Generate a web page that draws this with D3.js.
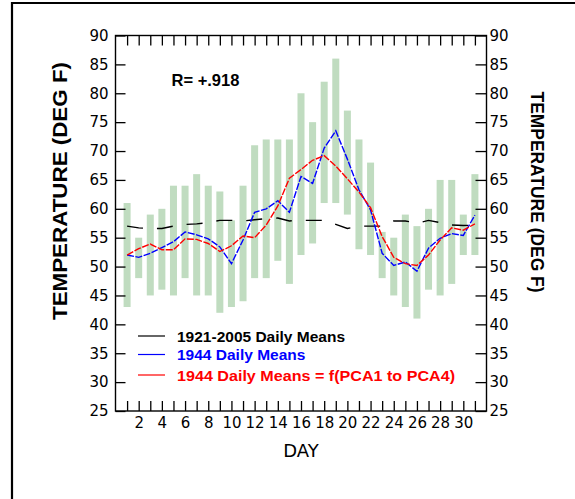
<!DOCTYPE html>
<html>
<head>
<meta charset="utf-8">
<script src="https://cdn.jsdelivr.net/npm/d3@7"></script>
<style>
  html, body { margin: 0; padding: 0; background: #fff; }
  svg { display: block; }
</style>
</head>
<body>
<svg id="chart" width="575" height="499"></svg>
<script>
// ---- data ----
const days = [1,2,3,4,5,6,7,8,9,10,11,12,13,14,15,16,17,18,19,20,21,22,23,24,25,26,27,28,29,30,31];
const rangeHigh = [61,55,59,60,64,64,66,64,63,58,64,71,72,72,72,80,75,82,86,77,72,68,56,55,59,57,60,65,65,59,66];
const rangeLow  = [43,48,45,46,45,48,45,45,42,43,44,48,48,51,47,52,54,61,61,59,53,52,48,45,43,41,46,45,47,52,52];
const climMeans = [57.0,56.7,56.6,56.6,57.0,57.3,57.4,57.6,58.0,58.0,57.9,58.1,58.3,58.4,57.9,58.0,58.0,58.0,57.3,56.6,57.0,57.0,57.0,57.9,57.9,57.5,58.0,57.6,57.2,57.1,57.2];
const means1944 = [52.0,51.6,52.3,53.3,54.3,56.0,55.5,54.8,53.4,50.5,54.6,59.4,60.0,61.4,59.4,65.6,64.4,70.5,73.5,68.6,63.3,59.8,52.3,50.2,50.8,49.2,53.2,54.9,55.7,55.4,58.9];
const pcaMeans  = [52.0,53.1,53.9,52.9,52.9,54.8,54.7,54.0,52.6,53.6,55.3,55.0,57.2,60.5,65.3,66.8,68.4,69.2,67.4,65.2,62.9,60.2,55.2,51.6,50.5,50.2,52.0,54.6,56.7,56.3,57.4];
const yTicks = [25,30,35,40,45,50,55,60,65,70,75,80,85,90];
const xTickLabels = [2,4,6,8,10,12,14,16,18,20,22,24,26,28,30];
const legendItems = ["1921-2005 Daily Means", "1944 Daily Means", "1944 Daily Means = f(PCA1 to PCA4)"];
const legendColors = ["#000000", "#0000ff", "#ff0000"];
const yTitle = "TEMPERATURE (DEG F)";
const xTitle = "DAY";
const rLabel = "R= +.918";

// ---- layout ----
const svg = d3.select("#chart");
const x = d3.scaleLinear().domain([0, 32]).range([115.5, 486.5]);
const y = d3.scaleLinear().domain([25, 90]).range([411, 35.5]);
const tickFont = "'DejaVu Sans', sans-serif";
const boldFont = "'Liberation Sans', Arial, sans-serif";

// figure border
svg.append("path").attr("d", "M12,499 V3 H575")
  .attr("fill", "none").attr("stroke", "#000").attr("stroke-width", 2.2);

// bars
svg.append("g").selectAll("rect").data(days).join("rect")
  .attr("x", (d) => x(d) - 3.5)
  .attr("width", 7)
  .attr("y", (d, i) => y(rangeHigh[i]))
  .attr("height", (d, i) => y(rangeLow[i]) - y(rangeHigh[i]))
  .attr("fill", "#c0dcc0");

// lines
const line = (vals) => d3.line().x((d) => x(d)).y((d, i) => y(vals[i]))(days);
svg.append("path").attr("d", line(climMeans)).attr("fill", "none")
  .attr("stroke", "#000").attr("stroke-width", 1.4).attr("stroke-dasharray", "16,14");
svg.append("path").attr("d", line(means1944)).attr("fill", "none")
  .attr("stroke", "#0000ff").attr("stroke-width", 1.4).attr("stroke-dasharray", "7,1.5");
svg.append("path").attr("d", line(pcaMeans)).attr("fill", "none")
  .attr("stroke", "#ff0000").attr("stroke-width", 1.4).attr("stroke-dasharray", "7,1.5");

// axes
function styleAxis(g) {
  g.select(".domain").remove();
  g.selectAll("line").attr("stroke", "#000").attr("stroke-width", 1.3);
  g.selectAll("text").attr("font-family", tickFont).attr("font-size", 15).attr("fill", "#000");
}
svg.append("g").attr("transform", `translate(${x.range()[0]},0)`)
  .call(d3.axisLeft(y).tickValues(yTicks).tickSizeInner(-10).tickSizeOuter(0).tickPadding(7).tickFormat(d3.format("d")))
  .call(styleAxis);
svg.append("g").attr("transform", `translate(${x.range()[1]},0)`)
  .call(d3.axisRight(y).tickValues(yTicks).tickSizeInner(-11).tickSizeOuter(0).tickPadding(3).tickFormat(d3.format("d")))
  .call(styleAxis);
svg.append("g").attr("transform", `translate(0,${y.range()[0]})`)
  .call(d3.axisBottom(x).tickValues(days).tickSizeInner(-10).tickSizeOuter(0).tickPadding(6)
    .tickFormat((d) => xTickLabels.includes(d) ? String(d) : ""))
  .call(styleAxis);
svg.append("g").attr("transform", `translate(0,${y.range()[1]})`)
  .call(d3.axisTop(x).tickValues(days).tickSizeInner(-10).tickSizeOuter(0).tickFormat(""))
  .call(styleAxis);

// frame
svg.append("rect")
  .attr("x", x.range()[0]).attr("y", y.range()[1])
  .attr("width", x.range()[1] - x.range()[0]).attr("height", y.range()[0] - y.range()[1])
  .attr("fill", "none").attr("stroke", "#000").attr("stroke-width", 1.4);

// R label
svg.append("text").attr("x", 171.5).attr("y", 86).text(rLabel)
  .attr("font-family", boldFont).attr("font-weight", "bold").attr("font-size", 16.5);

// legend
const legY = [336, 354.5, 375];
const legLen = [null, null, 278];
legendItems.forEach((t, i) => {
  svg.append("line").attr("x1", 138).attr("x2", 165).attr("y1", legY[i]).attr("y2", legY[i])
    .attr("stroke", legendColors[i]).attr("stroke-width", 1.2);
  const tx = svg.append("text").attr("x", 177).attr("y", legY[i]).attr("dy", "0.36em").text(t)
    .attr("fill", legendColors[i]).attr("font-family", boldFont).attr("font-weight", "bold").attr("font-size", 15.5);
  if (legLen[i]) tx.attr("textLength", legLen[i]).attr("lengthAdjust", "spacingAndGlyphs");
});

// axis titles
svg.append("text").attr("transform", "translate(59,191) rotate(-90)")
  .attr("text-anchor", "middle").attr("dy", "0.358em").text(yTitle)
  .attr("font-family", boldFont).attr("font-weight", "bold").attr("font-size", 21)
  .attr("textLength", 258).attr("lengthAdjust", "spacingAndGlyphs");
svg.append("text").attr("transform", "translate(538,192) rotate(90)")
  .attr("text-anchor", "middle").attr("dy", "0.358em").text(yTitle)
  .attr("font-family", boldFont).attr("font-weight", "bold").attr("font-size", 18.5)
  .attr("textLength", 201).attr("lengthAdjust", "spacingAndGlyphs");
svg.append("text").attr("x", (x.range()[0] + x.range()[1]) / 2).attr("y", 457)
  .attr("text-anchor", "middle").text(xTitle)
  .attr("font-family", tickFont).attr("font-size", 18);
</script>
</body>
</html>
